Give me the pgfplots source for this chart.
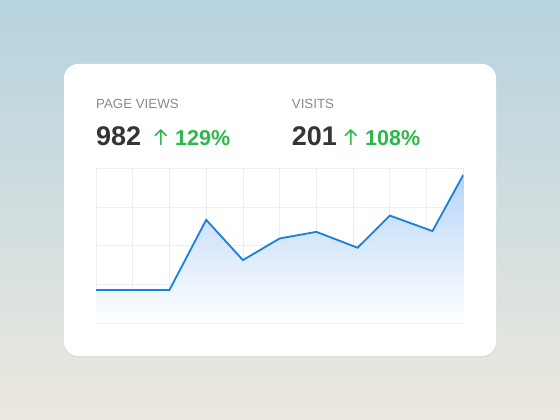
\documentclass[border=0pt]{standalone}
\usepackage{pgfplots}
\pgfplotsset{compat=1.18}
\usepackage{fontspec}
\setmainfont{Liberation Sans}
\usetikzlibrary{shadows}
\definecolor{bgtop}{HTML}{B6D3DF}
\definecolor{bgmid}{HTML}{E4EBE9}
\definecolor{bgbot}{HTML}{ECE8DF}
\definecolor{labelgray}{HTML}{8A8A8A}
\definecolor{numdark}{HTML}{333538}
\definecolor{upgreen}{HTML}{2DB84B}
\definecolor{lineblue}{HTML}{1A7FE0}
\definecolor{fillblue}{HTML}{B6D5F8}
\definecolor{gridgray}{HTML}{EDEDED}
\begin{document}
\begin{tikzpicture}[x=1pt,y=1pt]
\shade[top color=bgtop, middle color=bgmid, bottom color=bgbot] (0,0) rectangle (560,420);
\fill[white, rounded corners=14pt, drop shadow={opacity=0.06, shadow xshift=0pt, shadow yshift=-2pt}] (64,64) rectangle (496,356);
\begin{axis}[at={(96pt,96.7pt)}, anchor=south west, scale only axis,
  width=367.3pt, height=155pt,
  xmin=0, xmax=10, ymin=0, ymax=4,
  xtick={0,...,10}, ytick={0,...,4},
  xticklabels={}, yticklabels={},
  major tick length=0pt,
  grid=major, major grid style={gridgray, line width=0.8pt},
  axis line style={gridgray, line width=0.8pt}]
\addplot[draw=none, top color=fillblue, bottom color=white] coordinates {
(0,0.86) (1,0.86) (2,0.86) (3,2.67) (4,1.63) (5,2.19) (6,2.36) (7.12,1.95) (8,2.78) (9.16,2.38) (10,3.83)
} \closedcycle;
\addplot[lineblue, line width=1.8pt, line join=miter] coordinates {
(0,0.86) (1,0.86) (2,0.86) (3,2.67) (4,1.63) (5,2.19) (6,2.36) (7.12,1.95) (8,2.78) (9.16,2.38) (10,3.83)
};
\end{axis}
\node[anchor=base west, inner sep=0, text=labelgray, font=\fontsize{13.3}{15}\selectfont] at (96,311) {PAGE VIEWS};
\node[anchor=base west, inner sep=0, text=numdark, font=\fontsize{27}{30}\selectfont\bfseries] at (96,274) {982};
\draw[upgreen, line width=1.6pt, line cap=round, line join=round] (160.8,275.5) -- (160.8,290) (155.3,284.5) -- (160.8,290) -- (166.3,284.5);
\node[anchor=base west, inner sep=0, text=upgreen, font=\fontsize{21.5}{26}\selectfont\bfseries] at (175,274) {129\%};
\node[anchor=base west, inner sep=0, text=labelgray, font=\fontsize{13.3}{15}\selectfont] at (291.7,311) {VISITS};
\node[anchor=base west, inner sep=0, text=numdark, font=\fontsize{27}{30}\selectfont\bfseries] at (291.7,274) {201};
\draw[upgreen, line width=1.6pt, line cap=round, line join=round] (350.8,275.5) -- (350.8,290) (345.3,284.5) -- (350.8,290) -- (356.3,284.5);
\node[anchor=base west, inner sep=0, text=upgreen, font=\fontsize{21.5}{26}\selectfont\bfseries] at (365,274) {108\%};
\end{tikzpicture}
\end{document}
